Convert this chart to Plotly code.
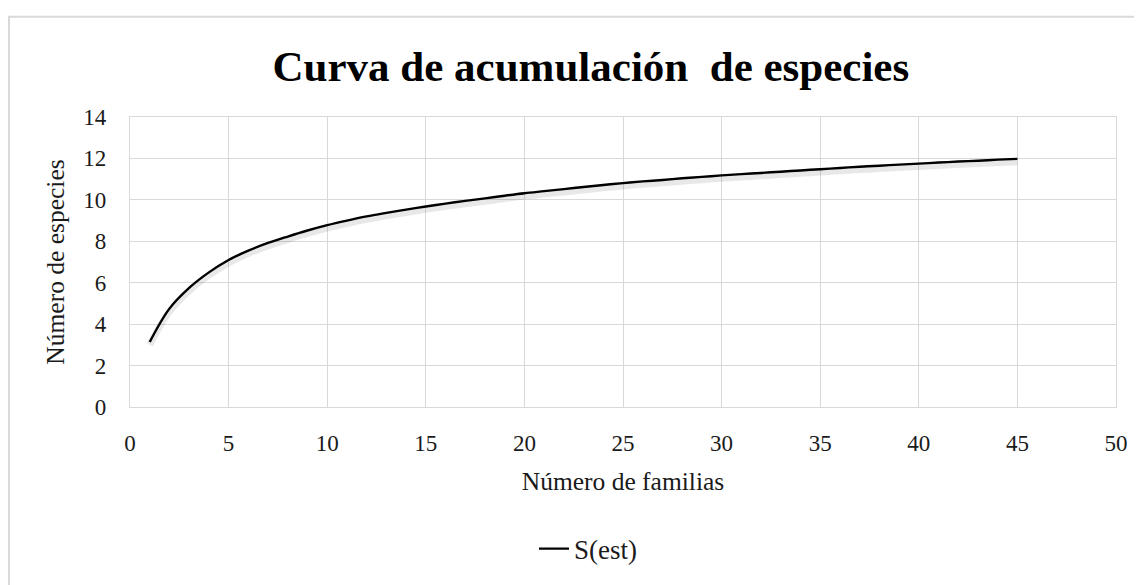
import plotly.graph_objects as go

familias = list(range(1, 46))
s_est = [3.14, 4.75, 5.75, 6.50, 7.10, 7.55, 7.92, 8.23, 8.52, 8.78,
         9.00, 9.20, 9.37, 9.53, 9.68, 9.82, 9.95, 10.07, 10.20, 10.32,
         10.42, 10.52, 10.62, 10.72, 10.81, 10.89, 10.96, 11.04, 11.11, 11.18,
         11.24, 11.30, 11.36, 11.42, 11.48, 11.54, 11.60, 11.65, 11.70, 11.75,
         11.80, 11.85, 11.89, 11.94, 11.98]
serie = "S(est)"
titulo = "Curva de acumulación&nbsp; de especies"
x_titulo = "Número de familias"
y_titulo = "Número de especies"

FONT = "Liberation Serif, Times New Roman, serif"
GRID = "#d9d9d9"

fig = go.Figure()
# soft shadow drawn on an overlaid, slightly shifted axis
fig.add_trace(go.Scatter(x=familias, y=s_est, mode="lines", line=dict(color="rgba(0,0,0,0.09)", width=7, shape="spline"),
                         yaxis="y2", showlegend=False, hoverinfo="skip"))
fig.add_trace(go.Scatter(x=familias, y=s_est, mode="lines", name=serie,
                         line=dict(color="black", width=2.4, shape="spline")))

fig.update_layout(
    width=1134, height=577,
    margin=dict(l=122, r=26, t=109, b=173),
    paper_bgcolor="white", plot_bgcolor="white",
    font=dict(family=FONT, color="#1a1a1a", size=23),
    title=dict(text="<b>" + titulo + "</b>", x=0.514, xanchor="center", y=0.899, yanchor="middle",
               font=dict(family=FONT, size=43, color="black")),
    xaxis=dict(range=[0, 50], dtick=5, tick0=0, showgrid=True, gridcolor=GRID, gridwidth=1.3,
               zeroline=False, showline=True, linecolor=GRID, linewidth=1.3, mirror=True,
               ticks="outside", ticklen=15, tickcolor="rgba(0,0,0,0)",
               tickfont=dict(size=23),
               title=dict(text=x_titulo, standoff=17, font=dict(size=25.5))),
    yaxis=dict(range=[0, 14], dtick=2, tick0=0, showgrid=True, gridcolor=GRID, gridwidth=1.3,
               zeroline=False, showline=True, linecolor=GRID, linewidth=1.3, mirror=True,
               ticks="outside", ticklen=18, tickcolor="rgba(0,0,0,0)",
               tickfont=dict(size=23),
               title=dict(text=y_titulo, standoff=11, font=dict(size=25.5))),
    yaxis2=dict(range=[0.14, 14.14], overlaying="y", visible=False),
    legend=dict(orientation="h", x=0.4645, xanchor="center", y=-0.49, yanchor="middle",
                font=dict(size=27, color="#1a1a1a"), bgcolor="rgba(0,0,0,0)"),
    shapes=[dict(type="rect", xref="paper", yref="paper", x0=-0.1227, x1=1.2, y0=-0.8, y1=1.346,
                 line=dict(color=GRID, width=2), fillcolor="rgba(0,0,0,0)", layer="below")],
)

fig.write_html("out.html")
